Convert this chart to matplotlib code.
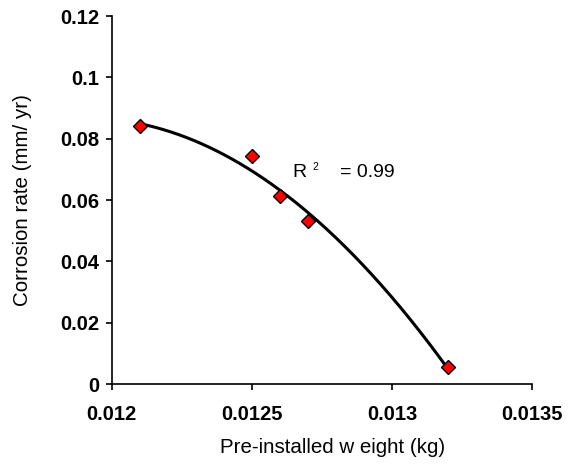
import numpy as np
import matplotlib.pyplot as plt

plt.rcParams['font.family'] = ['Liberation Sans', 'DejaVu Sans']

# measured points
weight = [0.0121, 0.0125, 0.0126, 0.0127, 0.0132]
corrosion = [0.084, 0.0745, 0.0614, 0.053, 0.0054]

# second order trendline through the points
coef = np.polyfit(weight, corrosion, 2)
xfit = np.linspace(min(weight), max(weight), 200)
yfit = np.polyval(coef, xfit)

fig = plt.figure(figsize=(5.72, 4.71), dpi=100)
ax = fig.add_axes([0.1953, 0.1847, 0.7353, 0.7813])

ax.plot(xfit, yfit, color='black', lw=2.2, zorder=2)
ax.plot(weight, corrosion, 'D', color='red', markeredgecolor='black',
        markeredgewidth=1.0, markersize=7, zorder=3)

ax.set_xlim(0.012, 0.0135)
ax.set_ylim(0, 0.12)
ax.set_xticks([0.012, 0.0125, 0.013, 0.0135])
ax.set_xticklabels(['0.012', '0.0125', '0.013', '0.0135'])
ax.set_yticks([0, 0.02, 0.04, 0.06, 0.08, 0.1, 0.12])
ax.set_yticklabels(['0', '0.02', '0.04', '0.06', '0.08', '0.1', '0.12'])

for lbl in ax.get_xticklabels() + ax.get_yticklabels():
    lbl.set_fontweight('bold')
    lbl.set_fontsize(14.5)

ax.spines['top'].set_visible(False)
ax.spines['right'].set_visible(False)
ax.spines['left'].set_linewidth(1.2)
ax.spines['bottom'].set_linewidth(1.2)
ax.tick_params(direction='out', length=4, width=1.2, pad=5)
ax.tick_params(axis='x', pad=11)

ax.set_xlabel('Pre-installed w eight (kg)', fontsize=14.8)
ax.set_ylabel('Corrosion rate (mm/ yr)', fontsize=14.8, labelpad=20)
ax.xaxis.set_label_coords(0.524, -0.148)

ax.text(0.012644, 0.0675, 'R', fontsize=14)
ax.text(0.012717, 0.0698, '2', fontsize=7.5)
ax.text(0.012815, 0.0675, '= 0.99', fontsize=14)

fig.savefig('out.png', dpi=100)
